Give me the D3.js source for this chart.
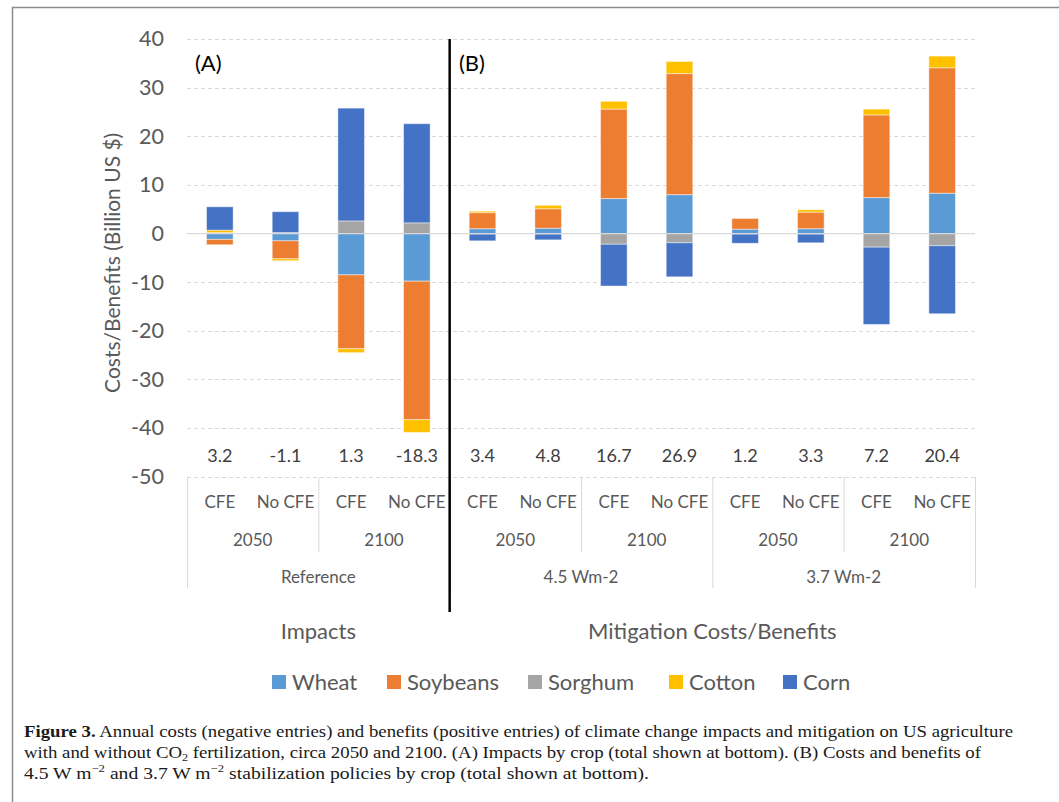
<!DOCTYPE html>
<html>
<head>
<meta charset="utf-8">
<script src="https://cdn.jsdelivr.net/npm/d3@7"></script>
<style>
  body { margin: 0; background: #fff; }
  svg text { font-family: Lato, "Open Sans", sans-serif; }
</style>
</head>
<body>
<div id="chart"></div>
<script>
// crops, in stacking order
const crops = ["Wheat", "Soybeans", "Sorghum", "Cotton", "Corn"];
const cropColors = ["#5B9BD5", "#ED7D31", "#A5A5A5", "#FFC000", "#4472C4"];

// category levels
const scenarios = ["Reference", "4.5 Wm-2", "3.7 Wm-2"];
const years = ["2050", "2100"];
const cfeLabels = ["CFE", "No CFE"];

// values per crop, billion US $, one per bar (Reference, 4.5, 3.7 / 2050, 2100 / CFE, No CFE)
const wheat    = [-1.2, -1.5,  -8.5,  -9.8, 1.0, 1.1,  7.2,  8.0,  0.9,  1.0,   7.4,   8.3];
const soybeans = [-1.1, -3.7, -15.2, -28.5, 3.3, 4.0, 18.4, 24.9,  2.2,  3.4,  17.0,  25.8];
const sorghum  = [ 0.2,  0.2,   2.6,   2.2, -0.1, -0.1, -2.2, -1.9, -0.1, -0.1, -2.8,  -2.5];
const cotton   = [ 0.5, -0.4,  -0.8,  -2.6, 0.3, 0.7,  1.6,  2.5,  0.0,  0.5,   1.2,   2.4];
const corn     = [ 4.8,  4.3,  23.2,  20.4, -1.4, -1.2, -8.6, -7.0, -1.9, -1.8, -15.9, -14.0];

// totals printed under the bars
const totals = ["3.2", "-1.1", "1.3", "-18.3", "3.4", "4.8", "16.7", "26.9", "1.2", "3.3", "7.2", "20.4"];

const yTicks = [-50, -40, -30, -20, -10, 0, 10, 20, 30, 40];

const width = 1059, height = 802;
const textGray = "#595959";

// build rows for d3.stack
const series = [wheat, soybeans, sorghum, cotton, corn];
const bars = [];
scenarios.forEach((s, si) => years.forEach((yr, yi) => cfeLabels.forEach((c, ci) => {
  const i = bars.length;
  const row = {id: i, scenario: s, year: yr, cfe: c};
  crops.forEach((k, j) => row[k] = series[j][i]);
  bars.push(row);
})));

const svg = d3.select("#chart").append("svg")
  .attr("width", width)
  .attr("height", height);

// figure frame
svg.append("path")
  .attr("d", "M12.5,802 L12.5,7.5 L1059,7.5")
  .attr("fill", "none")
  .attr("stroke", "#8c8c8c")
  .attr("stroke-width", 1.5);

const x = d3.scaleBand()
  .domain(bars.map(d => d.id))
  .range([187, 975])
  .paddingInner(0.595)
  .paddingOuter(0.2975);

const y = d3.scaleLinear()
  .domain([-50, 40])
  .range([476.6, 39.1]);

// gridlines
svg.append("g")
  .selectAll("line")
  .data(yTicks.filter(t => t !== 0))
  .join("line")
  .attr("x1", 187).attr("x2", 975)
  .attr("y1", d => Math.round(y(d)) + 0.5)
  .attr("y2", d => Math.round(y(d)) + 0.5)
  .attr("stroke", "#d9d9d9")
  .attr("stroke-dasharray", "4,3");

// y axis labels
const yAxis = svg.append("g")
  .attr("transform", "translate(164,0)")
  .call(d3.axisLeft(y).tickValues(yTicks).tickFormat(d => String(d)).tickSize(0).tickPadding(0));
yAxis.select(".domain").remove();
yAxis.selectAll("text")
  .attr("fill", textGray)
  .attr("font-size", 21.5)
  .attr("font-family", "Lato, sans-serif");

svg.append("text")
  .attr("transform", `translate(120,${y(-5) + 5}) rotate(-90)`)
  .attr("text-anchor", "middle")
  .attr("fill", textGray)
  .attr("font-size", 21)
  .text("Costs/Benefits (Billion US $)");

// stacked bars
const stack = d3.stack().keys(crops).offset(d3.stackOffsetDiverging);
const stacked = stack(bars);

svg.append("g")
  .selectAll("g")
  .data(stacked)
  .join("g")
  .attr("fill", (d, i) => cropColors[i])
  .selectAll("rect")
  .data(d => d.filter(p => p[0] !== p[1]))
  .join("rect")
  .attr("x", d => x(d.data.id))
  .attr("width", x.bandwidth())
  .attr("y", d => y(Math.max(d[0], d[1])))
  .attr("height", d => Math.abs(y(d[0]) - y(d[1])))
  .attr("stroke", "#ffffff")
  .attr("stroke-opacity", 0.45)
  .attr("stroke-width", 1);

// zero line
svg.append("line")
  .attr("x1", 187).attr("x2", 975)
  .attr("y1", y(0)).attr("y2", y(0))
  .attr("stroke", "#d9d9d9")
  .attr("stroke-width", 1.2);

// totals
svg.append("g")
  .selectAll("text")
  .data(totals)
  .join("text")
  .attr("x", (d, i) => x(i) + x.bandwidth() / 2)
  .attr("y", 462)
  .attr("text-anchor", "middle")
  .attr("fill", "#404040")
  .attr("font-size", 18)
  .text(d => d);

// multi-level category axis
const step = x.step();
const left = 187;
const catAxis = svg.append("g");
bars.forEach((d, i) => {
  catAxis.append("text")
    .attr("x", x(i) + x.bandwidth() / 2)
    .attr("y", 508)
    .attr("text-anchor", "middle")
    .attr("fill", textGray)
    .attr("font-size", 17)
    .text(d.cfe);
});
for (let g = 0; g < scenarios.length * years.length; g++) {
  catAxis.append("text")
    .attr("x", left + step * (2 * g + 1))
    .attr("y", 546)
    .attr("text-anchor", "middle")
    .attr("fill", textGray)
    .attr("font-size", 17)
    .text(years[g % 2]);
}
scenarios.forEach((s, si) => {
  catAxis.append("text")
    .attr("x", left + step * (4 * si + 2))
    .attr("y", 583)
    .attr("text-anchor", "middle")
    .attr("fill", textGray)
    .attr("font-size", 17)
    .text(s);
});
// separators
for (let b = 0; b <= 12; b += 2) {
  const long = b % 4 === 0;
  catAxis.append("line")
    .attr("x1", left + step * b + 0.5).attr("x2", left + step * b + 0.5)
    .attr("y1", 477).attr("y2", long ? 588 : 552)
    .attr("stroke", "#d9d9d9")
    .attr("stroke-width", 1);
}

// panel divider and labels
svg.append("line")
  .attr("x1", left + step * 4).attr("x2", left + step * 4)
  .attr("y1", 39).attr("y2", 612)
  .attr("stroke", "#000")
  .attr("stroke-width", 2.5);

svg.append("text").attr("x", 195).attr("y", 71)
  .attr("font-size", 22).attr("fill", "#000").text("(A)");
svg.append("text").attr("x", 459).attr("y", 71)
  .attr("font-size", 22).attr("fill", "#000").text("(B)");

svg.append("text").attr("x", left + step * 2).attr("y", 639)
  .attr("text-anchor", "middle").attr("fill", textGray).attr("font-size", 22)
  .text("Impacts");
svg.append("text").attr("x", left + step * 8).attr("y", 639)
  .attr("text-anchor", "middle").attr("fill", textGray).attr("font-size", 22)
  .text("Mitigation Costs/Benefits");

// legend
const legendX = [272, 387, 528, 669, 783];
const legend = svg.append("g");
crops.forEach((c, i) => {
  legend.append("rect")
    .attr("x", legendX[i]).attr("y", 675)
    .attr("width", 14).attr("height", 14)
    .attr("fill", cropColors[i]);
  legend.append("text")
    .attr("x", legendX[i] + 20).attr("y", 690)
    .attr("fill", textGray).attr("font-size", 22)
    .text(c);
});

// caption
const cap = svg.append("g")
  .attr("font-family", "'Liberation Serif', serif")
  .attr("fill", "#1a1a1a")
  .attr("font-size", 17);

const l1 = cap.append("text").attr("x", 24).attr("y", 737)
  .attr("textLength", 989).attr("lengthAdjust", "spacingAndGlyphs")
  .style("font-family", "'Liberation Serif', serif");
l1.append("tspan").attr("font-weight", "bold").text("Figure 3.");
l1.append("tspan").text(" Annual costs (negative entries) and benefits (positive entries) of climate change impacts and mitigation on US agriculture");

const l2 = cap.append("text").attr("x", 24).attr("y", 758)
  .attr("textLength", 957).attr("lengthAdjust", "spacingAndGlyphs")
  .style("font-family", "'Liberation Serif', serif");
l2.append("tspan").text("with and without CO");
l2.append("tspan").attr("font-size", 11).attr("dy", 3).text("2");
l2.append("tspan").attr("dy", -3).text(" fertilization, circa 2050 and 2100. (A) Impacts by crop (total shown at bottom). (B) Costs and benefits of");

const l3 = cap.append("text").attr("x", 24).attr("y", 779)
  .attr("textLength", 625).attr("lengthAdjust", "spacingAndGlyphs")
  .style("font-family", "'Liberation Serif', serif");
l3.append("tspan").text("4.5 W m");
l3.append("tspan").attr("font-size", 11).attr("dy", -7).text("\u22122");
l3.append("tspan").attr("dy", 7).text(" and 3.7 W m");
l3.append("tspan").attr("font-size", 11).attr("dy", -7).text("\u22122");
l3.append("tspan").attr("dy", 7).text(" stabilization policies by crop (total shown at bottom).");
</script>
</body>
</html>
